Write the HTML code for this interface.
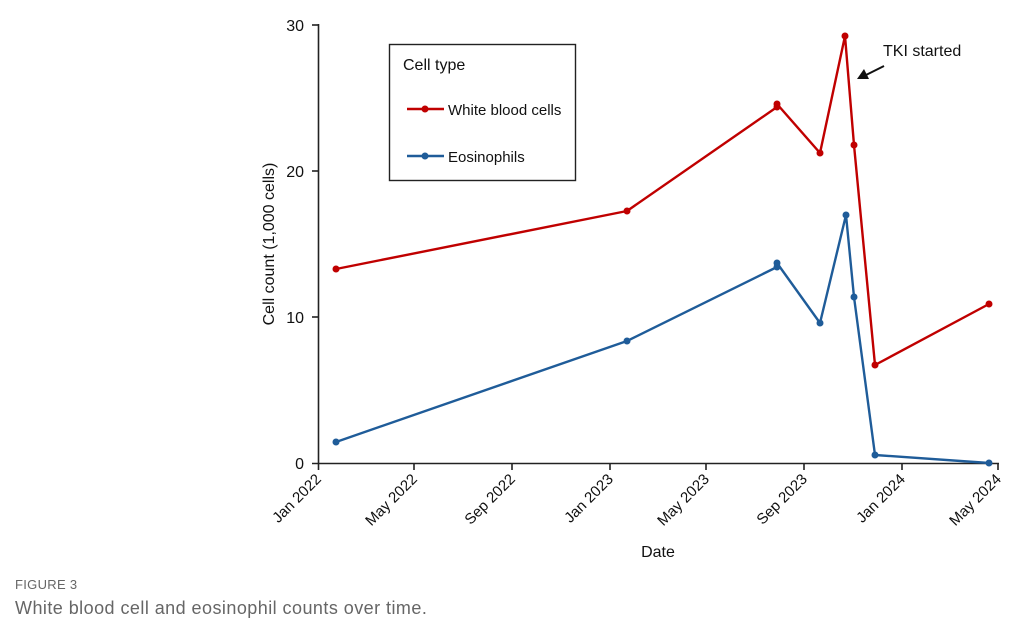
<!DOCTYPE html>
<html><head><meta charset="utf-8"><style>
html,body{margin:0;padding:0;background:#fff;}
svg{display:block;}
</style></head><body>
<svg width="1036" height="633" viewBox="0 0 1036 633" xmlns="http://www.w3.org/2000/svg" font-family="Liberation Sans, Arial, sans-serif">
<rect width="1036" height="633" fill="#fff"/>
<!-- axes -->
<g stroke="#222" stroke-width="1.6" fill="none">
<line x1="318.5" y1="24" x2="318.5" y2="463.5"/>
<line x1="312" y1="463.5" x2="999" y2="463.5"/>
<line x1="312" y1="25" x2="318" y2="25"/>
<line x1="312" y1="171" x2="318" y2="171"/>
<line x1="312" y1="317" x2="318" y2="317"/>
<line x1="318.5" y1="463" x2="318.5" y2="470"/>
<line x1="414" y1="463" x2="414" y2="470"/>
<line x1="512" y1="463" x2="512" y2="470"/>
<line x1="610" y1="463" x2="610" y2="470"/>
<line x1="706" y1="463" x2="706" y2="470"/>
<line x1="804" y1="463" x2="804" y2="470"/>
<line x1="902" y1="463" x2="902" y2="470"/>
<line x1="998" y1="463" x2="998" y2="470"/>
</g>
<g font-size="16" fill="#111" text-anchor="end">
<text x="304" y="31">30</text>
<text x="304" y="177">20</text>
<text x="304" y="323">10</text>
<text x="304" y="469">0</text>
</g>
<g font-size="15" fill="#111" text-anchor="end">
<text transform="translate(322,480) rotate(-45)">Jan 2022</text>
<text transform="translate(418,480) rotate(-45)">May 2022</text>
<text transform="translate(516,480) rotate(-45)">Sep 2022</text>
<text transform="translate(614,480) rotate(-45)">Jan 2023</text>
<text transform="translate(710,480) rotate(-45)">May 2023</text>
<text transform="translate(808,480) rotate(-45)">Sep 2023</text>
<text transform="translate(906,480) rotate(-45)">Jan 2024</text>
<text transform="translate(1002,480) rotate(-45)">May 2024</text>
</g>
<text x="658" y="557" font-size="16" fill="#111" text-anchor="middle">Date</text>
<text transform="translate(274,244) rotate(-90)" font-size="16" fill="#111" text-anchor="middle">Cell count (1,000 cells)</text>
<!-- series -->
<g fill="none" stroke="#c00000" stroke-width="2.4" stroke-linejoin="round">
<polyline points="336,269 627,211 777,107 777,104 820,153 845,36 854,145 875,365 989,304"/>
</g>
<g fill="#c00000">
<circle cx="336" cy="269" r="3.5"/><circle cx="627" cy="211" r="3.5"/><circle cx="777" cy="107" r="3.5"/><circle cx="777" cy="104" r="3.5"/><circle cx="820" cy="153" r="3.5"/><circle cx="845" cy="36" r="3.5"/><circle cx="854" cy="145" r="3.5"/><circle cx="875" cy="365" r="3.5"/><circle cx="989" cy="304" r="3.5"/>
</g>
<g fill="none" stroke="#1f5c99" stroke-width="2.4" stroke-linejoin="round">
<polyline points="336,442 627,341 777,267 777,263 820,323 846,215 854,297 875,455 989,463"/>
</g>
<g fill="#1f5c99">
<circle cx="336" cy="442" r="3.5"/><circle cx="627" cy="341" r="3.5"/><circle cx="777" cy="267" r="3.5"/><circle cx="777" cy="263" r="3.5"/><circle cx="820" cy="323" r="3.5"/><circle cx="846" cy="215" r="3.5"/><circle cx="854" cy="297" r="3.5"/><circle cx="875" cy="455" r="3.5"/><circle cx="989" cy="463" r="3.5"/>
</g>
<!-- legend -->
<rect x="389.5" y="44.5" width="186" height="136" fill="#fff" stroke="#222" stroke-width="1.4"/>
<text x="403" y="70" font-size="16" fill="#111">Cell type</text>
<line x1="407" y1="109" x2="444" y2="109" stroke="#c00000" stroke-width="2.4"/>
<circle cx="425" cy="109" r="3.5" fill="#c00000"/>
<text x="448" y="115" font-size="15" fill="#111">White blood cells</text>
<line x1="407" y1="156" x2="444" y2="156" stroke="#1f5c99" stroke-width="2.4"/>
<circle cx="425" cy="156" r="3.5" fill="#1f5c99"/>
<text x="448" y="162" font-size="15" fill="#111">Eosinophils</text>
<!-- annotation -->
<text x="883" y="56" font-size="16" fill="#111">TKI started</text>
<line x1="884" y1="66" x2="866" y2="75" stroke="#111" stroke-width="2"/>
<polygon points="857,79 864,69 869,79" fill="#111"/>
<!-- caption -->
<text x="15" y="589" font-size="13" fill="#666" letter-spacing="0.3">FIGURE 3</text>
<text x="15" y="614" font-size="18" fill="#666" letter-spacing="0.45">White blood cell and eosinophil counts over time.</text>
</svg>
</body></html>
